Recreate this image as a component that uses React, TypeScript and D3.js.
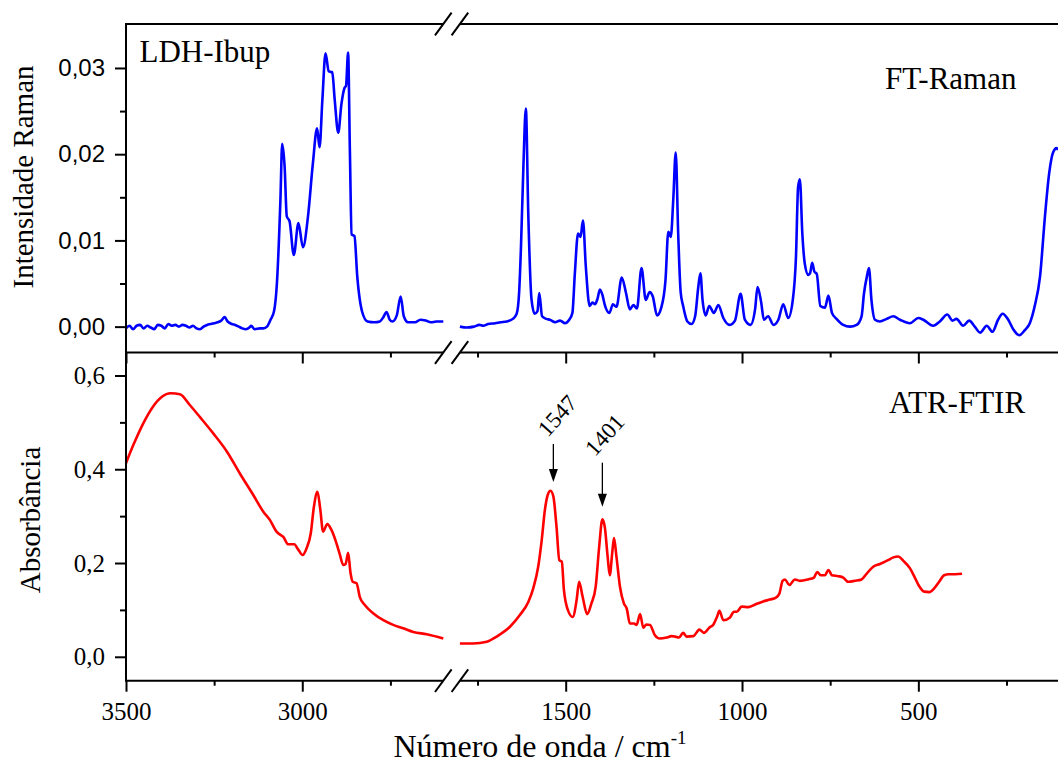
import { useRef, useEffect } from "react";
import * as d3 from "d3";

// FT-Raman, 3500-2600 cm-1  [wavenumber, intensity]
const ramanHigh: [number, number][] = [
  [3500, -0.0002], [3490, 0.0001], [3480, -0.0003], [3470, 0.0001], [3460, 0.0002], [3450, -0.0002],
  [3440, 0.0001], [3430, -0.0001], [3420, -0.0003], [3410, 0.0002], [3400, 0.0001], [3390, -0.0002],
  [3380, 0.0003], [3370, 0.0001], [3360, 0.0002], [3350, 0.0], [3340, 0.0002], [3330, 0.0001],
  [3320, -0.0001], [3310, 0.0001], [3300, -0.0002], [3290, -0.0003], [3280, 0.0], [3270, 0.0002],
  [3260, 0.0003], [3250, 0.0004], [3240, 0.0005], [3230, 0.0007], [3220, 0.0011], [3212, 0.0006],
  [3200, 0.0003], [3190, 0.0002], [3180, 0.0], [3170, -0.0002], [3160, -0.0003], [3150, -0.0001],
  [3145, 0.0001], [3135, -0.0003], [3120, -0.0002], [3110, -0.0002], [3100, 0.0], [3090, 0.0008],
  [3080, 0.0018], [3072, 0.005], [3062, 0.0147], [3057, 0.0212], [3050, 0.0185], [3044, 0.0128],
  [3036, 0.0122], [3024, 0.0083], [3011, 0.012], [2998, 0.0092], [2984, 0.0127], [2970, 0.0189],
  [2958, 0.023], [2951, 0.0208], [2943, 0.0263], [2934, 0.0317], [2925, 0.0296], [2915, 0.0295],
  [2908, 0.0263], [2898, 0.0225], [2889, 0.0258], [2880, 0.0277], [2876, 0.0279], [2870, 0.0318],
  [2865, 0.0205], [2860, 0.0107], [2852, 0.0105], [2844, 0.0058], [2830, 0.0017], [2815, 0.0006],
  [2795, 0.0005], [2780, 0.0006], [2770, 0.0011], [2761, 0.0017], [2752, 0.0008], [2744, 0.0006],
  [2732, 0.0013], [2721, 0.0035], [2712, 0.0012], [2700, 0.0005], [2680, 0.0005], [2665, 0.0008],
  [2650, 0.0007], [2635, 0.0005], [2620, 0.0006], [2600, 0.0006],
];

// FT-Raman, 1800-100 cm-1
const ramanLow: [number, number][] = [
  [1800, 0.0], [1780, -0.0001], [1760, 0.0], [1745, 0.0002], [1734, 0.0001], [1720, 0.0003],
  [1700, 0.0004], [1685, 0.0005], [1667, 0.0006], [1650, 0.0009], [1639, 0.0015], [1632, 0.004],
  [1627, 0.009], [1620, 0.0185], [1613, 0.0253], [1606, 0.0129], [1597, 0.0032], [1588, 0.0015],
  [1580, 0.0018], [1575, 0.0039], [1567, 0.0012], [1555, 0.0009], [1545, 0.0008], [1530, 0.0005],
  [1516, 0.0007], [1502, 0.0004], [1490, 0.0008], [1481, 0.0016], [1474, 0.0062], [1465, 0.0108],
  [1458, 0.0104], [1451, 0.0123], [1443, 0.007], [1432, 0.0024], [1424, 0.0028], [1417, 0.0026],
  [1410, 0.0032], [1403, 0.0043], [1396, 0.0037], [1389, 0.0025], [1376, 0.0016], [1366, 0.0026],
  [1356, 0.0023], [1341, 0.0057], [1329, 0.0039], [1318, 0.002], [1308, 0.0025], [1298, 0.0021],
  [1285, 0.0068], [1273, 0.0031], [1262, 0.004], [1253, 0.0035], [1241, 0.0013], [1229, 0.0022],
  [1217, 0.0054], [1209, 0.011], [1202, 0.0104], [1195, 0.0147], [1188, 0.0202], [1181, 0.0108],
  [1174, 0.004], [1167, 0.0024], [1155, 0.0006], [1143, 0.0003], [1133, 0.0012], [1124, 0.0046],
  [1118, 0.0062], [1112, 0.0031], [1103, 0.0013], [1093, 0.0024], [1080, 0.0016], [1067, 0.0025],
  [1053, 0.001], [1035, 0.0002], [1020, 0.0007], [1004, 0.0038], [992, 0.0008], [976, 0.0002],
  [963, 0.002], [956, 0.0046], [946, 0.0029], [938, 0.0008], [926, 0.0012], [911, 0.0002],
  [897, 0.0008], [883, 0.0026], [869, 0.001], [856, 0.0031], [847, 0.0081], [841, 0.0162],
  [836, 0.0171], [829, 0.0108], [822, 0.0073], [812, 0.006], [807, 0.0062], [801, 0.0074],
  [795, 0.0064], [788, 0.0061], [778, 0.0024], [765, 0.0022], [755, 0.0036], [745, 0.0016],
  [732, 0.0009], [713, 0.0002], [694, 0.0], [675, 0.0002], [661, 0.0012], [654, 0.0039],
  [646, 0.0058], [640, 0.0068], [633, 0.0031], [623, 0.0008], [609, 0.0006], [590, 0.0009],
  [571, 0.0012], [552, 0.0008], [524, 0.0004], [500, 0.001], [486, 0.0008], [458, 0.0001],
  [439, 0.0006], [418, 0.0014], [403, 0.0007], [392, 0.0009], [373, 0.0001], [356, 0.0007],
  [340, 0.0], [325, -0.0007], [306, 0.0001], [290, -0.0006], [274, 0.0008], [261, 0.0015],
  [245, 0.0008], [231, -0.0003], [214, -0.001], [198, -0.0004], [184, 0.0004], [170, 0.0024],
  [155, 0.0058], [141, 0.0128], [129, 0.0178], [118, 0.0202], [108, 0.0207], [104, 0.0205],
];

// ATR-FTIR, 3500-2600 cm-1  [wavenumber, absorbance]
const ftirHigh: [number, number][] = [
  [3500, 0.413], [3479, 0.452], [3451, 0.498], [3423, 0.534], [3399, 0.554], [3373, 0.562],
  [3347, 0.56], [3319, 0.537], [3290, 0.511], [3253, 0.477], [3214, 0.438], [3177, 0.391],
  [3139, 0.345], [3111, 0.31], [3092, 0.292], [3073, 0.267], [3062, 0.26], [3054, 0.256],
  [3040, 0.24], [3023, 0.24], [3011, 0.228], [2999, 0.217], [2988, 0.231], [2976, 0.263],
  [2967, 0.32], [2957, 0.352], [2949, 0.315], [2941, 0.267], [2929, 0.283], [2917, 0.27],
  [2903, 0.242], [2893, 0.217], [2884, 0.196], [2877, 0.198], [2870, 0.222], [2863, 0.178],
  [2857, 0.16], [2846, 0.157], [2837, 0.128], [2822, 0.11], [2799, 0.093], [2770, 0.078],
  [2742, 0.068], [2714, 0.061], [2685, 0.053], [2647, 0.048], [2600, 0.039],
];

// ATR-FTIR, 1800-376 cm-1
const ftirLow: [number, number][] = [
  [1800, 0.0285], [1762, 0.0285], [1724, 0.032], [1696, 0.043], [1658, 0.064], [1630, 0.089],
  [1606, 0.117], [1592, 0.146], [1578, 0.192], [1568, 0.249], [1559, 0.313], [1551, 0.345],
  [1543, 0.354], [1535, 0.342], [1526, 0.277], [1518, 0.206], [1511, 0.203], [1505, 0.142],
  [1493, 0.098], [1480, 0.085], [1469, 0.121], [1462, 0.16], [1452, 0.128], [1439, 0.091],
  [1427, 0.114], [1415, 0.149], [1405, 0.235], [1396, 0.293], [1389, 0.276], [1381, 0.213],
  [1375, 0.174], [1368, 0.222], [1363, 0.253], [1356, 0.213], [1346, 0.149], [1335, 0.114],
  [1327, 0.103], [1318, 0.071], [1306, 0.071], [1299, 0.068], [1289, 0.091], [1280, 0.062],
  [1271, 0.069], [1261, 0.068], [1247, 0.046], [1233, 0.039], [1214, 0.041], [1200, 0.044],
  [1190, 0.043], [1179, 0.041], [1167, 0.051], [1157, 0.043], [1138, 0.044], [1121, 0.058],
  [1108, 0.051], [1093, 0.062], [1081, 0.069], [1071, 0.085], [1064, 0.098], [1053, 0.078],
  [1034, 0.084], [1023, 0.096], [1015, 0.096], [1001, 0.107], [982, 0.106], [958, 0.113],
  [940, 0.118], [921, 0.122], [904, 0.126], [894, 0.135], [885, 0.162], [878, 0.165],
  [866, 0.153], [850, 0.165], [836, 0.162], [813, 0.165], [796, 0.169], [787, 0.181],
  [777, 0.174], [765, 0.174], [755, 0.185], [745, 0.174], [727, 0.172], [713, 0.169],
  [699, 0.16], [680, 0.162], [661, 0.165], [647, 0.177], [628, 0.192], [609, 0.198],
  [586, 0.206], [571, 0.212], [557, 0.214], [543, 0.205], [524, 0.189], [510, 0.169],
  [498, 0.151], [483, 0.139], [469, 0.138], [455, 0.146], [441, 0.16], [427, 0.174],
  [414, 0.176], [395, 0.176], [376, 0.177],
];

const xMajorHigh = [3500, 3000];
const xMinorHigh = [3250, 2750];
const xMajorLow = [1500, 1000, 500];
const xMinorLow = [1750, 1250, 750, 250];
const ramanTicks = [0, 0.01, 0.02, 0.03];
const ramanMinor = [0.005, 0.015, 0.025];
const ftirTicks = [0, 0.2, 0.4, 0.6];
const ftirMinor = [0.1, 0.3, 0.5];

// arrow annotations on the ATR-FTIR bands
const bands = [
  { label: "1547", wn: 1535, from: 0.454, to: 0.373, tx: 1523, ty: 0.514 },
  { label: "1401", wn: 1396, from: 0.414, to: 0.32, tx: 1389, ty: 0.473 },
];

const W = 1058, H = 769;
const left = 126, breakL = 443.3, breakR = 459.9, right = 1058;
const top = 24, mid = 352.5, bottom = 680.7;
const serif = "'Liberation Serif', 'Times New Roman', serif";
const sans = "'Liberation Sans', Arial, sans-serif";

const locale = d3.formatLocale({ decimal: ",", thousands: ".", grouping: [3], currency: ["", ""] });

export default function App() {
  const ref = useRef<SVGSVGElement>(null);

  useEffect(() => {
    const svg = d3.select(ref.current);
    svg.selectAll("*").remove();

    const xHigh = d3.scaleLinear().domain([3500, 2600]).range([left, breakL]);
    const xLow = d3.scaleLinear().domain([1800, 104]).range([breakR, right]);
    const yTop = d3.scaleLinear().domain([-0.003, 0.0351]).range([mid, top]);
    const yBot = d3.scaleLinear().domain([-0.051, 0.649]).range([bottom, mid]);

    const line = (x: d3.ScaleLinear<number, number>, y: d3.ScaleLinear<number, number>) =>
      d3.line<[number, number]>().x(d => x(d[0])).y(d => y(d[1])).curve(d3.curveMonotoneX);

    // spectra
    const spectra: [[number, number][], d3.ScaleLinear<number, number>, d3.ScaleLinear<number, number>, string][] = [
      [ramanHigh, xHigh, yTop, "#0000ff"],
      [ramanLow, xLow, yTop, "#0000ff"],
      [ftirHigh, xHigh, yBot, "#ff0000"],
      [ftirLow, xLow, yBot, "#ff0000"],
    ];
    spectra.forEach(([data, x, y, color]) => {
      svg.append("path").attr("d", line(x, y)(data)).attr("fill", "none")
        .attr("stroke", color).attr("stroke-width", 2.6).attr("stroke-linejoin", "round");
    });

    // frame lines with gap at the break
    [top, mid, bottom].forEach(yy => {
      svg.append("line").attr("x1", left).attr("x2", breakL).attr("y1", yy).attr("y2", yy)
        .attr("stroke", "#000").attr("stroke-width", 2);
      svg.append("line").attr("x1", breakR).attr("x2", right).attr("y1", yy).attr("y2", yy)
        .attr("stroke", "#000").attr("stroke-width", 2);
      [breakL, breakR].forEach(bx => {
        svg.append("line").attr("x1", bx - 8.3).attr("x2", bx + 8.3).attr("y1", yy + 11.3).attr("y2", yy - 11.3)
          .attr("stroke", "#000").attr("stroke-width", 2);
      });
    });
    svg.append("line").attr("x1", left).attr("x2", left).attr("y1", top - 1).attr("y2", bottom + 1)
      .attr("stroke", "#000").attr("stroke-width", 2);

    const style = (g: d3.Selection<SVGGElement, unknown, null, undefined>, font: string, size: number) => {
      g.select(".domain").remove();
      g.selectAll("line").attr("stroke", "#000").attr("stroke-width", 2);
      g.selectAll("text").attr("font-family", font).attr("font-size", size).attr("fill", "#000");
    };

    // y axes
    const f2 = locale.format(".2f"), f1 = locale.format(".1f");
    svg.append("g").attr("transform", `translate(${left},0)`)
      .call(d3.axisLeft(yTop).tickValues(ramanTicks).tickSize(11).tickPadding(10).tickFormat(d => f2(d as number)))
      .call(g => style(g, sans, 24));
    svg.append("g").attr("transform", `translate(${left},0)`)
      .call(d3.axisLeft(yTop).tickValues(ramanMinor).tickSize(6).tickFormat(() => ""))
      .call(g => style(g, sans, 24));
    svg.append("g").attr("transform", `translate(${left},0)`)
      .call(d3.axisLeft(yBot).tickValues(ftirTicks).tickSize(11).tickPadding(10).tickFormat(d => f1(d as number)))
      .call(g => style(g, serif, 25));
    svg.append("g").attr("transform", `translate(${left},0)`)
      .call(d3.axisLeft(yBot).tickValues(ftirMinor).tickSize(6).tickFormat(() => ""))
      .call(g => style(g, serif, 25));

    // x axes: bottom (labelled) and top of lower panel (inward ticks)
    ([[xHigh, xMajorHigh, xMinorHigh], [xLow, xMajorLow, xMinorLow]] as [d3.ScaleLinear<number, number>, number[], number[]][])
      .forEach(([x, major, minor]) => {
        svg.append("g").attr("transform", `translate(0,${bottom})`)
          .call(d3.axisBottom(x).tickValues(major).tickSize(11).tickPadding(11).tickFormat(d3.format("d")))
          .call(g => style(g, serif, 25));
        svg.append("g").attr("transform", `translate(0,${bottom})`)
          .call(d3.axisBottom(x).tickValues(minor).tickSize(5).tickFormat(() => ""))
          .call(g => style(g, serif, 25));
        svg.append("g").attr("transform", `translate(0,${mid})`)
          .call(d3.axisBottom(x).tickValues(major).tickSize(11).tickFormat(() => ""))
          .call(g => style(g, serif, 25));
        svg.append("g").attr("transform", `translate(0,${mid})`)
          .call(d3.axisBottom(x).tickValues(minor).tickSize(5).tickFormat(() => ""))
          .call(g => style(g, serif, 25));
      });

    // band arrows
    bands.forEach(b => {
      const x = xLow(b.wn), y0 = yBot(b.from), y1 = yBot(b.to);
      svg.append("line").attr("x1", x).attr("x2", x).attr("y1", y0).attr("y2", y1 - 10)
        .attr("stroke", "#000").attr("stroke-width", 1.3);
      svg.append("path").attr("d", `M${x},${y1}L${x - 4.5},${y1 - 13}L${x + 4.5},${y1 - 13}Z`).attr("fill", "#000");
      svg.append("text").attr("transform", `translate(${xLow(b.tx)},${yBot(b.ty)}) rotate(-48)`)
        .attr("text-anchor", "middle").attr("dominant-baseline", "central")
        .attr("font-family", serif).attr("font-size", 23).text(b.label);
    });

    // panel labels
    const label = (t: string, x: number, y: number, size: number) =>
      svg.append("text").attr("x", x).attr("y", y).attr("font-family", serif).attr("font-size", size).text(t);
    label("LDH-Ibup", 139.5, 61.7, 31);
    label("FT-Raman", 885, 89, 31);
    label("ATR-FTIR", 889, 413, 31);

    // axis titles
    svg.append("text").attr("transform", `translate(33,177) rotate(-90)`).attr("text-anchor", "middle")
      .attr("font-family", serif).attr("font-size", 29).text("Intensidade Raman");
    svg.append("text").attr("transform", `translate(40,520) rotate(-90)`).attr("text-anchor", "middle")
      .attr("font-family", serif).attr("font-size", 29).text("Absorbância");
    const xt = svg.append("text").attr("x", 540).attr("y", 757).attr("text-anchor", "middle")
      .attr("font-family", serif).attr("font-size", 32);
    xt.append("tspan").text("Número de onda / cm");
    xt.append("tspan").attr("font-size", 19).attr("dy", -13).text("-1");
  }, []);

  return (
    <div style={{ position: "absolute", left: 0, top: 0 }}>
      <svg ref={ref} width={W} height={H} style={{ display: "block", background: "#fff" }} />
    </div>
  );
}
